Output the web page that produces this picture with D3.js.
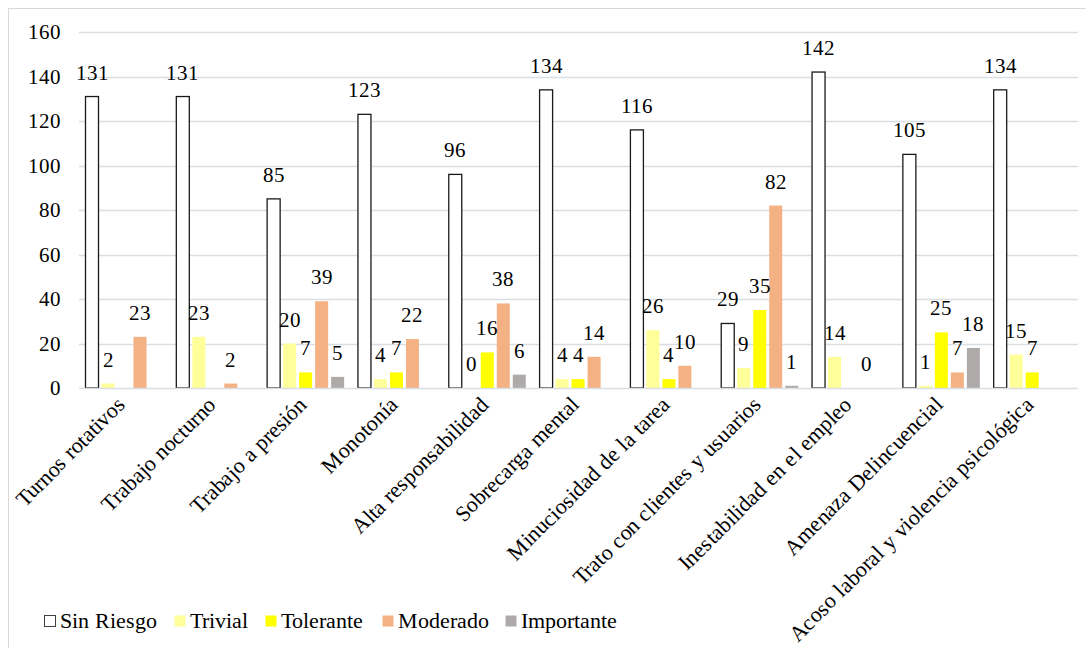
<!DOCTYPE html>
<html>
<head>
<meta charset="utf-8">
<script src="https://cdn.jsdelivr.net/npm/d3@7"></script>
<style>
  @font-face {
    font-family: "ChartSerif";
    src: local("Liberation Serif"), local("LiberationSerif"), local("Liberation Serif Regular"), local("LiberationSerif-Regular"), local("Times New Roman");
  }
  html, body { margin: 0; padding: 0; background: #fff; }
  svg { display: block; }
  svg text { font-family: "ChartSerif", "Liberation Serif", "Times New Roman", serif !important; }
</style>
</head>
<body>
<svg id="chart" width="1086" height="648"></svg>
<script>
// Risk factors (categories) and risk levels (series)
const categories = [
  "Turnos rotativos", "Trabajo nocturno", "Trabajo a presión", "Monotonía",
  "Alta responsabilidad", "Sobrecarga mental", "Minuciosidad de la tarea",
  "Trato con clientes y usuarios", "Inestabilidad en el empleo",
  "Amenaza Delincuencial", "Acoso laboral y violencia psicológica"
];
const seriesNames = ["Sin Riesgo", "Trivial", "Tolerante", "Moderado", "Importante"];
const seriesColors = ["#FFFFFF", "#FFFF99", "#FFFF00", "#F4B183", "#AEAAAA"];

// null = no value reported for that level
const sinRiesgo  = [131, 131, 85, 123, 96, 134, 116, 29, 142, 105, 134];
const trivial    = [2, 23, 20, 4, 0, 4, 26, 9, 14, 1, 15];
const tolerante  = [null, null, 7, 7, 16, 4, 4, 35, null, 25, 7];
const moderado   = [23, 2, 39, 22, 38, 14, 10, 82, 0, 7, null];
const importante = [null, null, 5, null, 6, null, null, 1, null, 18, null];

const yTicks = [0, 20, 40, 60, 80, 100, 120, 140, 160];

const seriesValues = [sinRiesgo, trivial, tolerante, moderado, importante];

function draw() {
  const svg = d3.select("#chart");
  svg.selectAll("*").remove();

  // outer chart frame
  svg.append("rect")
    .attr("x", 8.5).attr("y", 8.5)
    .attr("width", 1100).attr("height", 660)
    .attr("fill", "none").attr("stroke", "#D9D9D9").attr("stroke-width", 1);

  const plot = { left: 79, right: 1078, top: 32, bottom: 388 };

  const y = d3.scaleLinear().domain([0, 160]).range([plot.bottom, plot.top]);
  const x0 = d3.scaleBand().domain(categories).range([plot.left, plot.right]).padding(0);
  const x1 = d3.scaleBand().domain(seriesNames)
    .range([6.5, 6.5 + 77]).paddingInner(0.1875).paddingOuter(0);
  const color = d3.scaleOrdinal().domain(seriesNames).range(seriesColors);

  // gridlines
  svg.append("g").selectAll("line")
    .data(yTicks.filter(d => d > 0))
    .join("line")
    .attr("x1", plot.left).attr("x2", plot.right)
    .attr("y1", d => Math.round(y(d)) + 0.5).attr("y2", d => Math.round(y(d)) + 0.5)
    .attr("stroke", "#D9DDE4").attr("stroke-width", 1.5);

  // y axis labels
  svg.append("g").selectAll("text")
    .data(yTicks)
    .join("text")
    .attr("x", 61)
    .attr("y", d => y(d))
    .attr("dy", "0.35em")
    .attr("text-anchor", "end")
    .attr("font-size", 21)
    .attr("fill", "#000")
    .text(d => d);

  // bars
  const rows = categories.map((c, i) => ({
    cat: c,
    values: seriesNames.map((s, j) => ({ series: s, value: seriesValues[j][i] }))
  }));

  const groups = svg.append("g").selectAll("g")
    .data(rows)
    .join("g")
    .attr("transform", d => `translate(${x0(d.cat)},0)`);

  groups.selectAll("rect")
    .data(d => d.values.filter(v => v.value !== null && v.value > 0))
    .join("rect")
    .attr("x", d => x1(d.series))
    .attr("y", d => y(d.value))
    .attr("width", x1.bandwidth())
    .attr("height", d => y(0) - y(d.value))
    .attr("fill", d => color(d.series))
    .attr("stroke", d => d.series === "Sin Riesgo" ? "#1a1a1a" : "none")
    .attr("stroke-width", 1.3);

  // data labels
  groups.selectAll("text")
    .data(d => d.values.filter(v => v.value !== null))
    .join("text")
    .attr("x", d => x1(d.series) + x1.bandwidth() / 2)
    .attr("y", d => y(d.value) - 17)
    .attr("text-anchor", "middle")
    .attr("font-size", 21)
    .attr("fill", "#000")
    .text(d => d.value);

  // x axis baseline
  svg.append("line")
    .attr("x1", plot.left).attr("x2", plot.right)
    .attr("y1", plot.bottom + 0.5).attr("y2", plot.bottom + 0.5)
    .attr("stroke", "#D9DDE4").attr("stroke-width", 1.5);

  // category labels, rotated
  svg.append("g").selectAll("text")
    .data(categories)
    .join("text")
    .attr("transform", d => `translate(${x0(d) + x0.bandwidth() / 2 + 2},${plot.bottom + 18}) rotate(-45)`)
    .attr("text-anchor", "end")
    .attr("font-size", 22)
    .attr("fill", "#000")
    .text(d => d);

  // legend
  const legendX = [44, 174, 265, 382, 505];
  const legend = svg.append("g").selectAll("g")
    .data(seriesNames)
    .join("g")
    .attr("transform", (d, i) => `translate(${legendX[i]},615)`);
  legend.append("rect")
    .attr("x", 0.5).attr("y", 0.5)
    .attr("width", 11).attr("height", 11)
    .attr("fill", d => color(d))
    .attr("stroke", d => d === "Sin Riesgo" ? "#404040" : "none");
  legend.append("text")
    .attr("x", 16).attr("y", 13)
    .attr("font-size", 22)
    .attr("fill", "#000")
    .text(d => d);
}

draw();
if (document.fonts && document.fonts.load) {
  document.fonts.load('21px "ChartSerif"').then(draw).catch(() => {});
}
</script>
</body>
</html>
